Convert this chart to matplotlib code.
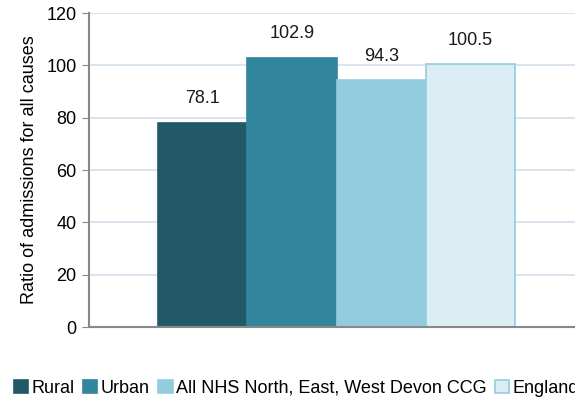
import numpy as np
import matplotlib.pyplot as plt

plt.rcParams['font.family'] = ['Liberation Sans', 'DejaVu Sans']

categories = ['Rural', 'Urban', 'All NHS North, East, West Devon CCG', 'England']
values = [78.1, 102.9, 94.3, 100.5]
colors = ['#215968', '#31859c', '#93cddd', '#dbeef4']
edges = ['#215968', '#31859c', '#93cddd', '#93cddd']
yticks = [0, 20, 40, 60, 80, 100, 120]

fig = plt.figure(figsize=(5.75, 4.01), dpi=100)
ax = fig.add_axes([0.155, 0.1845, 0.845, 0.783])

x = np.arange(len(values))
bars = ax.bar(x, values, width=1.0, color=colors, edgecolor=edges,
              linewidth=1.2, label=categories, zorder=3)

for xi, v in zip(x, values):
    ax.annotate(f'{v:.1f}', (xi, v), xytext=(0, 11), textcoords='offset points',
                ha='center', va='bottom', fontsize=13, color='#1a1a1a')

ax.set_xlim(-1.275, 4.174)
ax.set_ylim(0, 120)
ax.set_yticks(yticks)
ax.set_xticks([])
ax.yaxis.grid(True, color='#d3dfec', lw=1.2, zorder=0)
ax.tick_params(axis='y', labelsize=13, length=5, color='#888888', pad=4)
for s in ['top', 'right']:
    ax.spines[s].set_visible(False)
for s in ['left', 'bottom']:
    ax.spines[s].set_color('#888888')
    ax.spines[s].set_linewidth(1.5)
ax.spines['bottom'].set_zorder(4)
ax.set_ylabel('Ratio of admissions for all causes', fontsize=13, labelpad=6)

fig.legend(handles=bars, labels=categories, loc='center left',
           bbox_to_anchor=(0.0243, 0.032), ncol=4, frameon=False, fontsize=13,
           handlelength=0.78, handleheight=0.78, handletextpad=0.17,
           columnspacing=0.5, borderaxespad=0, borderpad=0)

fig.savefig('out.png', dpi=100)
